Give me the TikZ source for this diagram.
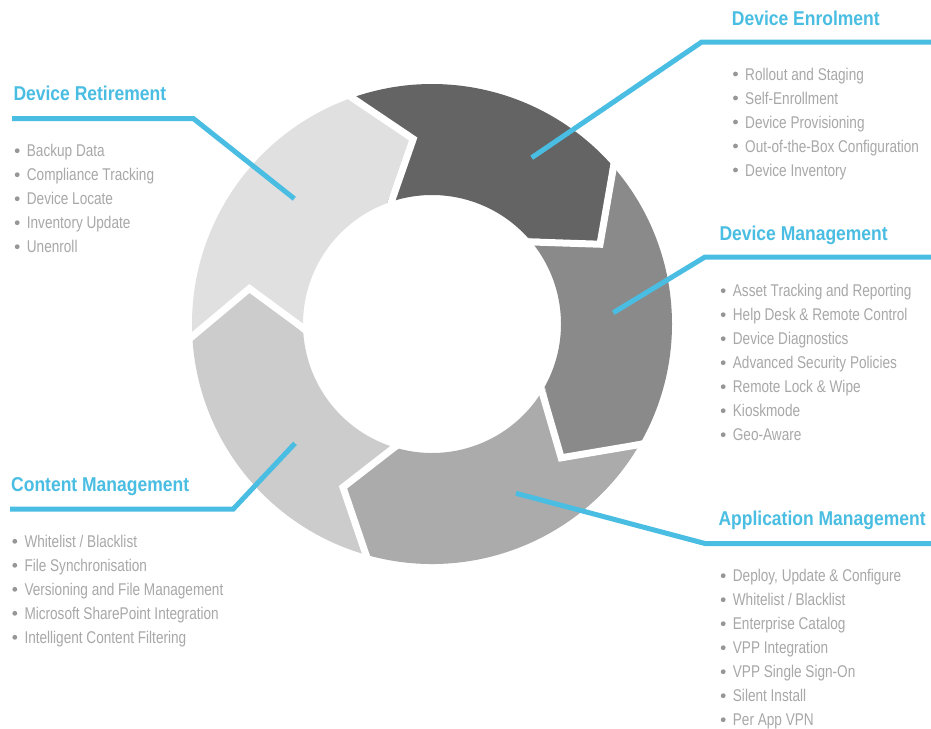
\documentclass[tikz,border=0pt]{standalone}
\usepackage{fontspec}
\setmainfont{Liberation Sans}[FakeStretch=0.8]
\newfontfamily\headfont{Liberation Sans}[FakeStretch=0.875]
\definecolor{pinblue}{RGB}{74,189,226}
\definecolor{itemgray}{RGB}{168,168,168}
\definecolor{dotgray}{RGB}{150,150,150}
\definecolor{segenr}{RGB}{100,100,100}
\definecolor{segmgt}{RGB}{138,138,138}
\definecolor{segapp}{RGB}{171,171,171}
\definecolor{segcnt}{RGB}{204,204,204}
\definecolor{segret}{RGB}{224,224,224}
\begin{document}
\begin{tikzpicture}[x=1pt, y=-1pt,
                heading/.style={anchor=base west, inner sep=0pt, text=pinblue,
                    font=\headfont\bfseries\fontsize{20}{24}\selectfont},
                entry/.style={anchor=base west, inner sep=0pt, text=itemgray,
                    font=\fontsize{17}{24}\selectfont},
                pin/.style={draw=pinblue, line width=5pt},
                gap/.style={draw=white, line width=7pt}
            ]
            \fill[white] (0,0) rectangle (931,728);
            \useasboundingbox (0,0) rectangle (931,728);

            % ring of arrows
            \begin{scope}[shift={(432,324)}, yscale=-1]
                \foreach \a/\ta/\b/\tb/\shade in {110.5/95.8/42/25.4/segenr,
                        42/25.4/-29/-46/segmgt, -29/-46/-105/-118.6/segapp,
                        -105/-118.6/-176/-191/segcnt, -176/-191/-249.5/-264.2/segret}
                    \fill[\shade] (\a:240) arc[start angle=\a, end angle=\b, radius=240]
                        -- (\tb:186) -- (\b:129) arc[start angle=\b, end angle=\a, radius=129]
                        -- (\ta:186) -- cycle;
                \foreach \a/\ta in {110.5/95.8, 42/25.4, -29/-46, -105/-118.6, -176/-191}
                    \draw[gap] (\a:246) -- (\ta:186) -- (\a:123);
            \end{scope}

            % pins
            \coordinate (enr-pin) at (531.7,157.7);
            \coordinate (enr-knee) at (701.7,42);
            \coordinate (enr-end) at (931,42);
            \coordinate (mgt-pin) at (613.3,312.7);
            \coordinate (mgt-knee) at (705,257);
            \coordinate (mgt-end) at (931,257);
            \coordinate (app-pin) at (516,493.3);
            \coordinate (app-knee) at (705,543.5);
            \coordinate (app-end) at (931,543.5);
            \coordinate (cnt-pin) at (295,443.3);
            \coordinate (cnt-knee) at (233.3,509);
            \coordinate (cnt-end) at (10,509);
            \coordinate (ret-pin) at (294.3,198.7);
            \coordinate (ret-knee) at (193.3,118.5);
            \coordinate (ret-end) at (12,118.5);
            \foreach \s in {enr, mgt, app, cnt, ret}
                \draw[pin] (\s-pin) -- (\s-knee) -- (\s-end);

            % headings
            \node[heading] (enr) at (731.7,25) {Device Enrolment};
            \node[heading] (mgt) at (719.3,240) {Device Management};
            \node[heading] (app) at (718.3,525) {Application Management};
            \node[heading] (cnt) at (11,491.7) {Content Management};
            \node[heading] (ret) at (13.3,100.7) {Device Retirement};

            % lists
            \foreach \txt [count=\i] in {Rollout and Staging, Self-Enrollment,
                    Device Provisioning, Out-of-the-Box Configuration, Device Inventory}{
                \node[entry] (enr-\i) at (745,{80+24*(\i-1)}) {\txt};
                \fill[dotgray] (enr-\i.base west) ++(-9.5,-6) circle (2.4);
            }
            \foreach \txt [count=\i] in {Asset Tracking and Reporting, Help Desk \& Remote Control,
                    Device Diagnostics, Advanced Security Policies, Remote Lock \& Wipe,
                    Kioskmode, Geo-Aware}{
                \node[entry] (mgt-\i) at (732.7,{296.7+24*(\i-1)}) {\txt};
                \fill[dotgray] (mgt-\i.base west) ++(-9.5,-6) circle (2.4);
            }
            \foreach \txt [count=\i] in {{Deploy, Update \& Configure}, Whitelist / Blacklist,
                    Enterprise Catalog, VPP Integration, VPP Single Sign-On,
                    Silent Install, Per App VPN}{
                \node[entry] (app-\i) at (732.7,{581.7+24*(\i-1)}) {\txt};
                \fill[dotgray] (app-\i.base west) ++(-9.5,-6) circle (2.4);
            }
            \foreach \txt [count=\i] in {Whitelist / Blacklist, File Synchronisation,
                    Versioning and File Management, Microsoft SharePoint Integration,
                    Intelligent Content Filtering}{
                \node[entry] (cnt-\i) at (24.3,{547.3+24*(\i-1)}) {\txt};
                \fill[dotgray] (cnt-\i.base west) ++(-9.5,-6) circle (2.4);
            }
            \foreach \txt [count=\i] in {Backup Data, Compliance Tracking, Device Locate,
                    Inventory Update, Unenroll}{
                \node[entry] (ret-\i) at (26.7,{156.7+24*(\i-1)}) {\txt};
                \fill[dotgray] (ret-\i.base west) ++(-9.5,-6) circle (2.4);
            }
        \end{tikzpicture}
\end{document}
